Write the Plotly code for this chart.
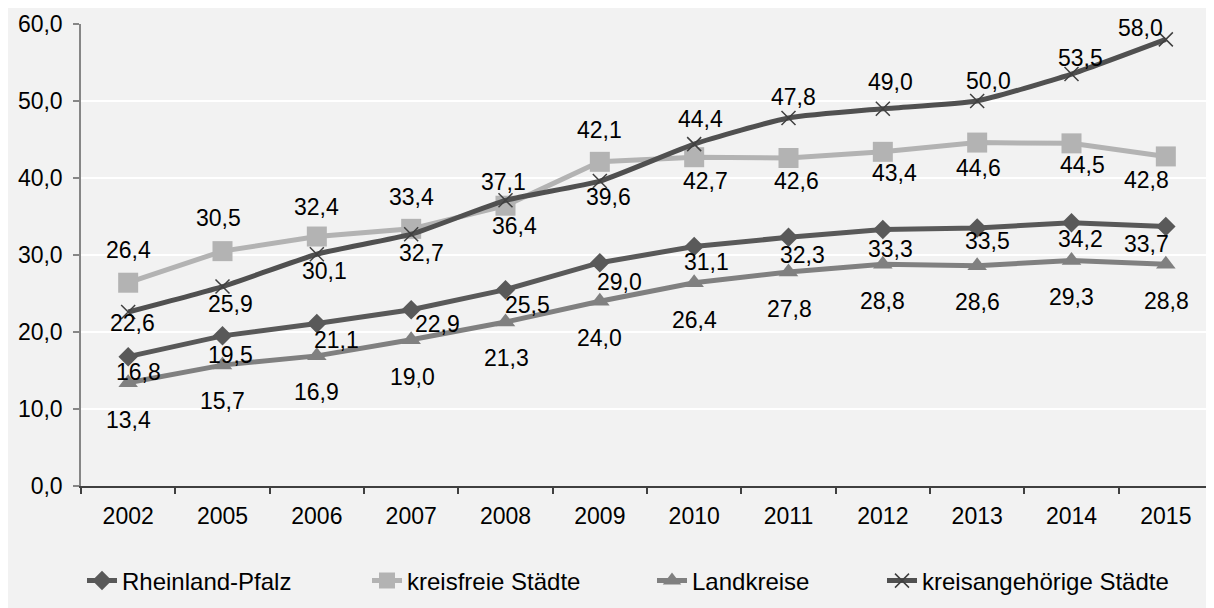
import plotly.graph_objects as go

years = ["2002", "2005", "2006", "2007", "2008", "2009", "2010", "2011", "2012", "2013", "2014", "2015"]
rheinland_pfalz = [16.8, 19.5, 21.1, 22.9, 25.5, 29.0, 31.1, 32.3, 33.3, 33.5, 34.2, 33.7]
kreisfreie = [26.4, 30.5, 32.4, 33.4, 36.4, 42.1, 42.7, 42.6, 43.4, 44.6, 44.5, 42.8]
landkreise = [13.4, 15.7, 16.9, 19.0, 21.3, 24.0, 26.4, 27.8, 28.8, 28.6, 29.3, 28.8]
kreisangehoerige = [22.6, 25.9, 30.1, 32.7, 37.1, 39.6, 44.4, 47.8, 49.0, 50.0, 53.5, 58.0]

# label offsets in pixels (dx right, dy down) - style only
lab_r = ([10, 8, 20, 26, 22, 20, 12, 14, 8, 10, 9, -19],
         [15, 19, 16, 14, 15, 19, 15, 18, 19, 13, 16, 17])
lab_k = ([0, -4, 0, 0, 9, 0, 11, 8, 12, 1, 11, -19],
         [-33, -33, -30, -32, 20, -32, 24, 23, 21, 25, 22, 24])
lab_l = ([0, 0, 0, 1, 1, 0, 0, 1, 0, 0, 0, 1],
         [37, 36, 36, 37, 36, 37, 37, 37, 37, 36, 37, 37])
lab_s = ([4, 8, 8, 10, -2, 9, 6, 5, 8, 11, 9, -25],
         [11, 17, 17, 19, -18, 16, -25, -21, -27, -20, -16, -11])

FONT = "Liberation Sans, Arial, sans-serif"
FS = 23

fig = go.Figure()
fig.add_trace(go.Scatter(x=years, y=rheinland_pfalz, name="Rheinland-Pfalz", mode="lines+markers",
                         legend="legend",
                         line=dict(color="#595959", width=5),
                         marker=dict(symbol="diamond", size=15, color="#595959")))
fig.add_trace(go.Scatter(x=years, y=kreisfreie, name="kreisfreie Städte", mode="lines+markers",
                         legend="legend2",
                         line=dict(color="#b3b3b3", width=5),
                         marker=dict(symbol="square", size=20, color="#b3b3b3")))
fig.add_trace(go.Scatter(x=years, y=landkreise, name="Landkreise", mode="lines+markers",
                         legend="legend3",
                         line=dict(color="#808080", width=5),
                         marker=dict(symbol="triangle-up", size=17, color="#808080")))
fig.add_trace(go.Scatter(x=years, y=kreisangehoerige, name="kreisangehörige Städte", mode="lines+markers",
                         legend="legend4",
                         line=dict(color="#505050", width=5, shape="spline", smoothing=0.5),
                         marker=dict(symbol="x-thin", size=14, color="#404040",
                                     line=dict(color="#404040", width=1.5))))

def fmt(v):
    return f"{v:.1f}".replace(".", ",")

annotations = []
for vals, (dxs, dys) in [(rheinland_pfalz, lab_r), (kreisfreie, lab_k),
                         (landkreise, lab_l), (kreisangehoerige, lab_s)]:
    for i, v in enumerate(vals):
        # x given as the category index of years[i] on the category axis
        annotations.append(dict(x=years.index(years[i]), y=v, xref="x", yref="y", text=fmt(v),
                                showarrow=False, xshift=dxs[i], yshift=-dys[i],
                                font=dict(family=FONT, size=FS, color="#000000")))

# page body has an 8px margin; figure spans 1206x600 inside the window
H = 462.0
W = 1132.0
PL = 73


def leg(px):
    return dict(orientation="h", x=(px - PL) / W, xanchor="left", y=-95 / H, yanchor="middle",
                bgcolor="rgba(0,0,0,0)", font=dict(family=FONT, size=24, color="#000000"))


fig.update_layout(
    width=1206, height=600,
    margin=dict(l=PL, r=1, t=16, b=122, autoexpand=False),
    paper_bgcolor="#f2f2f2", plot_bgcolor="#f2f2f2",
    separators=",.",
    font=dict(family=FONT, size=FS, color="#000000"),
    showlegend=True,
    legend=leg(74), legend2=leg(359), legend3=leg(644), legend4=leg(874),
    annotations=annotations,
    xaxis=dict(type="category", range=[-0.5, 11.5], showgrid=False, showline=True, linecolor="#404040",
               linewidth=1.5, ticks="outside", ticklen=6, tickcolor="#404040", tickwidth=1.5,
               tickson="boundaries", tickangle=0,
               tickfont=dict(family=FONT, size=FS, color="#000000"), ticklabelstandoff=9,
               zeroline=False, automargin=False),
    yaxis=dict(range=[0, 60], dtick=10, tickformat=".1f", showgrid=True, gridcolor="#ffffff", gridwidth=1.5,
               showline=True, linecolor="#868686", linewidth=1.5, ticks="outside", ticklen=6,
               tickcolor="#868686", tickwidth=1.5, zeroline=False, automargin=False,
               tickfont=dict(family=FONT, size=FS, color="#000000"), ticklabelstandoff=6),
)

fig.write_html("out.html")
